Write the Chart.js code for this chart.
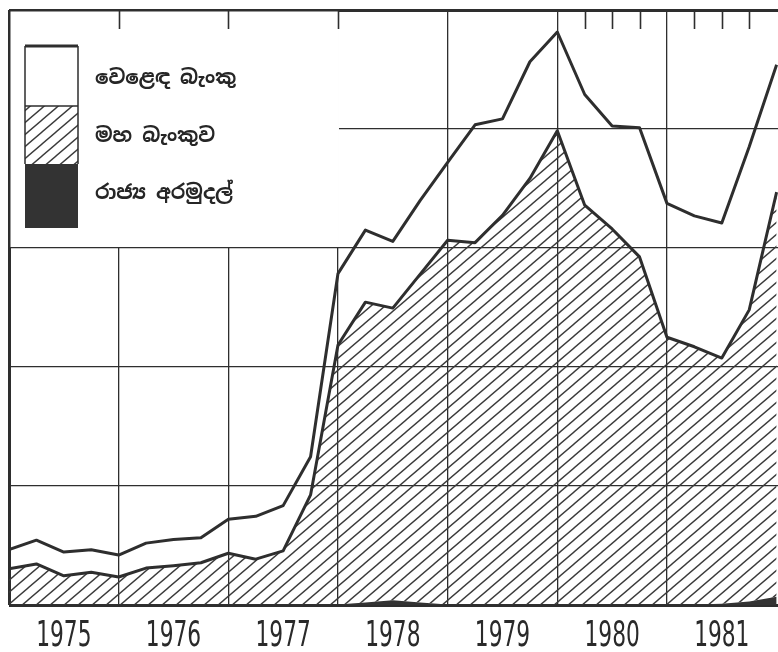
<!DOCTYPE html>
<html>
<head>
<meta charset="utf-8">
<script src="https://cdn.jsdelivr.net/npm/chart.js@4.4.1/dist/chart.umd.min.js"></script>
<style>
  html, body { margin: 0; padding: 0; background: #fff; }
  #wrap { width: 778px; height: 652px; position: relative; }
</style>
</head>
<body>
<div id="wrap"><canvas id="myChart"></canvas></div>
<script>
// --- DONNÉES (trimestres depuis début 1975) ---
const quarters = [0,1,2,3,4,5,6,7,8,9,10,11,12,13,14,15,16,17,18,19,20,21,22,23,24,25,26,27,28];
const years = ['1975','1976','1977','1978','1979','1980','1981'];
const legendLabels = ['වෙළෙඳ බැංකු', 'මහ බැංකුව', 'රාජ්‍ය අරමුදල්'];

// රාජ්‍ය අරමුදල් (bande sombre du bas)
const governmentFunds = [0.5,0.5,0.5,0.5,0.5,0.5,0.5,0.5,0.5,0.5,0.5,0.5,0.5,2,4,2,0.5,0.5,0.5,0.5,0.5,0.5,0.5,0.5,0.5,0.5,1,3,7];
// මහ බැංකුව (zone hachurée)
const centralBank = [30,34,24,27,23,30.5,32.5,35,43,38,45,92,218,252.5,245.5,276,306,304,327,358,398,335.5,315.5,292,224.5,216.5,206.5,245,340];
// වෙළෙඳ බැංකු (zone blanche du haut)
const commercialBanks = [16,20,20,19,18.5,21,22,21,28.5,36,38,32,60,60.5,56,62,65.5,99,81,98,83,93,86.5,108.5,112.5,110,113.5,137,107];

const ink = '#2e2e2e';

// échelle linéaire dont les libellés sont dessinés en caractères étroits
class EchelleAnnees extends Chart.LinearScale {
    drawLabels(chartArea) {
        const c = this.ctx;
        for (const item of this.getLabelItems(chartArea)) {
            const [tx, ty] = item.options.translation;
            c.save();
            c.translate(tx, ty + 8);
            c.scale(0.69, 1);
            c.font = item.font.string;
            c.fillStyle = item.options.color;
            c.textAlign = 'center';
            c.textBaseline = 'middle';
            c.fillText(item.label, 0, item.textOffset);
            c.restore();
        }
    }
}
EchelleAnnees.id = 'echelleAnnees';
Chart.register(EchelleAnnees);

function motifHachure() {
    const w = 14, h = 12;
    const c = document.createElement('canvas');
    c.width = w; c.height = h;
    const g = c.getContext('2d');
    g.strokeStyle = '#3a3a3a';
    g.lineWidth = 1.4;
    for (const dx of [-w, 0, w]) {
        g.beginPath();
        g.moveTo(dx - w * 0.2, h * 1.2);
        g.lineTo(dx + w * 1.2, -h * 0.2);
        g.stroke();
    }
    return g.createPattern(c, 'repeat');
}
const hachure = motifHachure();

const toPoints = arr => quarters.map((q, i) => ({ x: q, y: arr[i] }));

// --- LÉGENDE + PETITS TRAITS DU CADRE ---
const legendeCadre = {
    id: 'legendeCadre',
    afterDatasetsDraw(chart) {
        const { ctx, scales: { x, y }, chartArea } = chart;
        const right = x.getPixelForValue(12);
        const bottom = y.getPixelForValue(300);
        ctx.save();
        ctx.fillStyle = '#fff';
        ctx.fillRect(chartArea.left + 1.5, chartArea.top + 1.5, right + 1 - chartArea.left - 1.5, bottom - 1 - chartArea.top - 1.5);

        // petits traits en haut
        ctx.strokeStyle = ink;
        ctx.lineWidth = 1.6;
        [4, 8, 12, 21, 22, 23, 25, 26, 27].forEach(q => {
            const px = Math.round(x.getPixelForValue(q)) + 0.5;
            ctx.beginPath();
            ctx.moveTo(px, chartArea.top);
            ctx.lineTo(px, chartArea.top + 19);
            ctx.stroke();
        });

        // échantillons
        const sx = 25, sw = 53;
        const rows = [46, 106, 164, 228];
        ctx.fillStyle = '#fff';
        ctx.fillRect(sx, rows[0], sw, rows[1] - rows[0]);
        ctx.fillStyle = hachure;
        ctx.fillRect(sx, rows[1], sw, rows[2] - rows[1]);
        ctx.fillStyle = '#333';
        ctx.fillRect(sx, rows[2], sw, rows[3] - rows[2]);
        ctx.lineWidth = 1.5;
        ctx.beginPath();
        ctx.moveTo(sx, rows[0]); ctx.lineTo(sx, rows[2]);
        ctx.moveTo(sx + sw, rows[0]); ctx.lineTo(sx + sw, rows[2]);
        ctx.moveTo(sx, rows[1]); ctx.lineTo(sx + sw, rows[1]);
        ctx.stroke();
        ctx.lineWidth = 3;
        ctx.beginPath();
        ctx.moveTo(sx, rows[0]); ctx.lineTo(sx + sw, rows[0]);
        ctx.stroke();

        ctx.fillStyle = '#262626';
        ctx.font = 'bold 20px "Noto Sans Sinhala", "Noto Sans", sans-serif';
        ctx.textBaseline = 'middle';
        ctx.textAlign = 'left';
        [78, 136, 193].forEach((ty, i) => ctx.fillText(legendLabels[i], 95, ty));
        ctx.restore();
    }
};

const ctx = document.getElementById('myChart').getContext('2d');

const config = {
    type: 'line',
    data: {
        datasets: [
            {
                label: legendLabels[2],
                data: toPoints(governmentFunds),
                borderWidth: 0,
                backgroundColor: '#333',
                fill: 'origin'
            },
            {
                label: legendLabels[1],
                data: toPoints(centralBank),
                borderColor: ink,
                borderWidth: 3,
                backgroundColor: hachure,
                fill: '-1'
            },
            {
                label: legendLabels[0],
                data: toPoints(commercialBanks),
                borderColor: ink,
                borderWidth: 3,
                fill: false
            }
        ]
    },
    options: {
        responsive: true,
        maintainAspectRatio: false,
        animation: false,
        layout: { padding: { left: 9, top: 10, right: 0, bottom: 0 } },
        elements: {
            point: { radius: 0 },
            line: { tension: 0, borderJoinStyle: 'round' }
        },
        plugins: { legend: { display: false }, tooltip: { enabled: false } },
        scales: {
            x: {
                type: 'echelleAnnees',
                min: 0,
                max: 28.05,
                afterBuildTicks: scale => {
                    scale.ticks = [];
                    for (let v = 0; v <= 26; v += 2) scale.ticks.push({ value: v });
                },
                border: { display: false },
                grid: {
                    drawTicks: false,
                    color: c => (c.tick && c.tick.value % 4 === 0) ? ink : 'transparent',
                    lineWidth: c => (c.tick && c.tick.value === 0) ? 3 : 1.3
                },
                ticks: {
                    autoSkip: false,
                    maxRotation: 0,
                    padding: 4,
                    color: '#2a2a2a',
                    font: { family: '"DejaVu Sans Condensed", "DejaVu Sans", sans-serif', size: 35, lineHeight: '39px' },
                    callback: v => (v % 4 === 2) ? years[(v - 2) / 4] : ''
                }
            },
            y: {
                stacked: true,
                min: 0,
                max: 500,
                border: { display: false },
                grid: {
                    drawTicks: false,
                    color: ink,
                    lineWidth: c => (c.tick && (c.tick.value === 0 || c.tick.value === 500)) ? 3 : 1.3
                },
                ticks: { display: false, stepSize: 100 }
            }
        }
    },
    plugins: [legendeCadre]
};

const myChart = new Chart(ctx, config);
</script>
</body>
</html>
